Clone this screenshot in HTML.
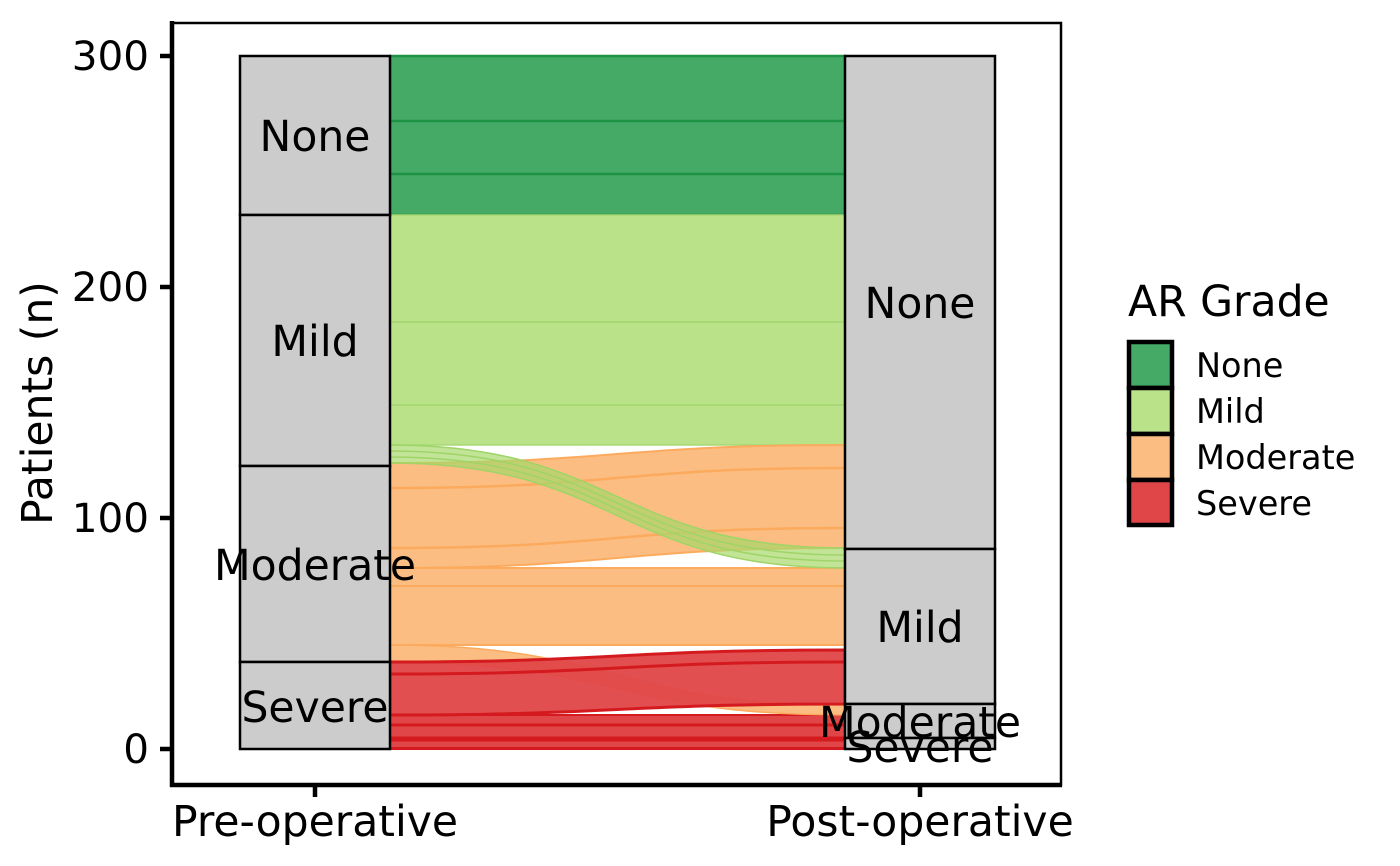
<!DOCTYPE html>
<html><head><meta charset="utf-8"><style>
html,body{margin:0;padding:0;background:#fff;}
svg{display:block;}
text{font-family:"DejaVu Sans","Liberation Sans",sans-serif;fill:#000;}
</style></head><body>
<svg width="1400" height="866" viewBox="0 0 1400 866" xmlns="http://www.w3.org/2000/svg">
<rect x="0" y="0" width="1400" height="866" fill="#fff"/>
<rect x="172" y="23" width="889" height="762" fill="none" stroke="#000" stroke-width="2.5"/>
<g stroke-width="2.5">
<path d="M390,56 L845,56 L845,215 L390,215Z" fill="#45AA66" stroke="#1e9344"/>
<line x1="390" y1="121" x2="845" y2="121" stroke="#1e9344"/>
<line x1="390" y1="174" x2="845" y2="174" stroke="#1e9344"/>
<path d="M390,215 L845,215 L845,445 L390,445Z" fill="#BAE289" stroke="#a8d873" stroke-width="1.5"/>
<line x1="390" y1="322" x2="845" y2="322" stroke="#a8d873" stroke-width="2"/>
<line x1="390" y1="405" x2="845" y2="405" stroke="#a8d873" stroke-width="2"/>
<path d="M390,568 L845,568 L845,645 L390,645Z" fill="#FBBD82" stroke="#fbaa5e" stroke-width="2"/>
<line x1="390" y1="586" x2="845" y2="586" stroke="#fbaa5e" stroke-width="2"/>
<path d="M390,463 C617,463 617,445 845,445 L845,548 C617,548 617,568 390,568Z" fill="#FBBD82" stroke="#fbaa5e" stroke-width="2"/>
<path d="M390,488 C617,488 617,468 845,468" fill="none" stroke="#fbaa5e" stroke-width="2.5"/>
<path d="M390,548 C617,548 617,528 845,528" fill="none" stroke="#fbaa5e" stroke-width="2.5"/>
<path d="M390,445 C617,445 617,548 845,548 L845,568 C617,568 617,463 390,463Z" fill="#a6d96a" fill-opacity="0.7" stroke="#9fd468" stroke-width="1.5"/>
<path d="M390,451 C617,451 617,555 845,555" fill="none" stroke="#9fd468" stroke-width="1.5"/>
<path d="M390,457 C617,457 617,561 845,561" fill="none" stroke="#9fd468" stroke-width="1.5"/>
<path d="M390,715 L845,715 L845,749 L390,749Z" fill="#E04647" stroke="#d41a1e" stroke-width="2"/>
<line x1="390" y1="725" x2="845" y2="725" stroke="#d41a1e" stroke-width="3"/>
<line x1="390" y1="739" x2="845" y2="739" stroke="#d41a1e" stroke-width="5"/>
<line x1="390" y1="748" x2="845" y2="748" stroke="#d41a1e" stroke-width="2"/>
<path d="M390,645 C617,645 617,705 845,705 L845,715 C617,715 617,662 390,662Z" fill="#FBBD82" stroke="#fbaa5e" stroke-width="1.5"/>
<path d="M390,662 C617,662 617,650 845,650 L845,704 C617,704 617,715 390,715Z" fill="#E04647" fill-opacity="0.95" stroke="#d41a1e" stroke-width="3"/>
<path d="M390,674 C617,674 617,662 845,662" fill="none" stroke="#d41a1e" stroke-width="3"/>
</g>
<g fill="#cccccc" stroke="#000" stroke-width="2.5">
<rect x="240" y="56" width="150" height="159"/>
<rect x="240" y="215" width="150" height="251"/>
<rect x="240" y="466" width="150" height="196"/>
<rect x="240" y="662" width="150" height="87"/>
<rect x="845" y="56" width="150" height="493"/>
<rect x="845" y="549" width="150" height="155"/>
<rect x="845" y="704" width="150" height="34"/>
<rect x="845" y="738" width="150" height="11"/>
</g>
<g font-size="42.5" text-anchor="middle">
<text x="315" y="151">None</text>
<text x="315" y="356">Mild</text>
<text x="315" y="580">Moderate</text>
<text x="315" y="722">Severe</text>
<text x="920" y="318">None</text>
<text x="920" y="642">Mild</text>
<text x="920" y="762">Severe</text>
<text x="920" y="737">Moderate</text>
</g>
<line x1="172" y1="21" x2="172" y2="787" stroke="#000" stroke-width="4.5"/>
<line x1="170" y1="785" x2="1062" y2="785" stroke="#000" stroke-width="4.5"/>
<g stroke="#000" stroke-width="4.5">
<line x1="160" y1="56" x2="172" y2="56"/>
<line x1="160" y1="287" x2="172" y2="287"/>
<line x1="160" y1="518" x2="172" y2="518"/>
<line x1="160" y1="749" x2="172" y2="749"/>
<line x1="315" y1="785" x2="315" y2="797"/>
<line x1="920" y1="785" x2="920" y2="797"/>
</g>
<g font-size="40.5" text-anchor="end">
<text x="149" y="70">300</text>
<text x="149" y="301">200</text>
<text x="149" y="532">100</text>
<text x="149" y="763">0</text>
</g>
<g font-size="42.5" text-anchor="middle">
<text x="315" y="836">Pre-operative</text>
<text x="920" y="836">Post-operative</text>
<text transform="translate(52,403) rotate(-90)">Patients (n)</text>
</g>
<text x="1128" y="316" font-size="42.5">AR Grade</text>
<g stroke="#000" stroke-width="4.5">
<rect x="1129" y="342" width="43" height="46" fill="#45AA66"/>
<rect x="1129" y="388" width="43" height="46" fill="#BAE289"/>
<rect x="1129" y="434" width="43" height="46" fill="#FBBD82"/>
<rect x="1129" y="480" width="43" height="45" fill="#E04647"/>
</g>
<g font-size="33.5">
<text x="1196" y="377">None</text>
<text x="1196" y="423">Mild</text>
<text x="1196" y="469">Moderate</text>
<text x="1196" y="515">Severe</text>
</g>
</svg>
</body></html>
